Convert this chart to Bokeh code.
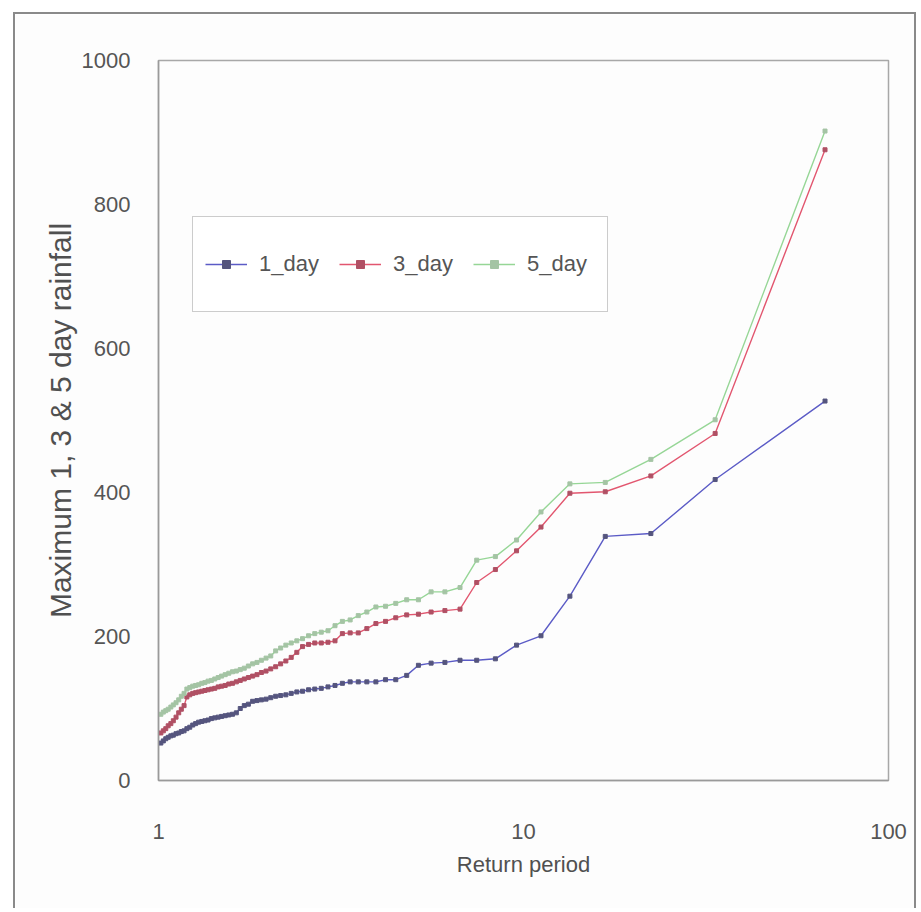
from bokeh.plotting import figure
from bokeh.models import Range1d, FixedTicker, Legend, LegendItem
from bokeh.embed import file_html
from bokeh.resources import INLINE

# Return periods (years), largest first
return_period = [67.0, 33.5, 22.333, 16.75, 13.4, 11.167, 9.571, 8.375, 7.444, 6.7,
                 6.091, 5.583, 5.154, 4.786, 4.467, 4.188, 3.941, 3.722, 3.526, 3.35,
                 3.19, 3.045, 2.913, 2.792, 2.68, 2.577, 2.481, 2.393, 2.31, 2.233,
                 2.161, 2.094, 2.03, 1.971, 1.914, 1.861, 1.811, 1.763, 1.718, 1.675,
                 1.634, 1.595, 1.558, 1.523, 1.489, 1.457, 1.426, 1.396, 1.367, 1.34,
                 1.314, 1.288, 1.264, 1.241, 1.218, 1.196, 1.175, 1.155, 1.136, 1.117,
                 1.098, 1.081, 1.063, 1.047, 1.031, 1.015]

rain_1day = [527, 418, 343, 339, 256, 201, 188, 169, 167, 167,
             164, 163, 160, 146, 140, 140, 137, 137, 137, 137,
             135, 132, 130, 128, 127, 126, 124, 123, 121, 119,
             118, 117, 115, 113, 112, 111, 110, 106, 104, 100,
             94, 92, 91, 90, 89, 88, 87, 86, 84, 83,
             82, 81, 79, 77, 74, 72, 69, 68, 66, 65,
             63, 62, 60, 58, 55, 52]

rain_3day = [876, 482, 423, 401, 399, 352, 319, 293, 275, 238,
             236, 234, 231, 230, 226, 221, 218, 211, 205, 205,
             204, 194, 192, 191, 191, 189, 186, 178, 171, 166,
             162, 158, 155, 152, 150, 147, 145, 143, 141, 139,
             137, 135, 134, 132, 131, 130, 128, 127, 126, 125,
             124, 123, 122, 121, 119, 116, 104, 99, 94, 88,
             83, 79, 76, 72, 69, 66]

rain_5day = [902, 501, 446, 414, 412, 373, 334, 311, 306, 268,
             262, 262, 251, 251, 246, 242, 241, 234, 229, 223,
             221, 215, 208, 206, 204, 201, 197, 194, 191, 188,
             184, 180, 173, 170, 167, 164, 162, 159, 156, 154,
             152, 151, 149, 147, 145, 143, 141, 139, 138, 136,
             135, 133, 132, 131, 129, 127, 121, 117, 112, 108,
             105, 102, 99, 97, 95, 92]

series_names = ["1_day", "3_day", "5_day"]
x_ticks = [1, 10, 100]
y_ticks = [0, 200, 400, 600, 800, 1000]

FONT = "Liberation Sans"

p = figure(width=903, height=896, x_axis_type="log",
           x_range=Range1d(1, 100), y_range=Range1d(0, 1000),
           output_backend="svg", toolbar_location=None,
           min_border_left=143, min_border_right=30,
           min_border_top=46, min_border_bottom=130)

# outer frame of the whole chart
p.margin = (12, 0, 0, 13)
p.styles = {"border-top": "2px solid #8a8a8a",
            "border-left": "2px solid #8a8a8a",
            "border-right": "2px solid #8a8a8a"}

p.background_fill_color = "#fdfdfd"
p.border_fill_color = "#fdfdfd"
p.outline_line_color = "#a8a8a8"
p.outline_line_width = 1.5
p.xgrid.visible = False
p.ygrid.visible = False

for ax in (p.xaxis, p.yaxis):
    ax.axis_line_color = "#9a9a9a"
    ax.axis_line_width = 1.5
    ax.major_tick_line_color = None
    ax.minor_tick_line_color = None
    ax.major_label_text_font = FONT
    ax.major_label_text_font_size = "22px"
    ax.major_label_text_color = "#555555"
    ax.axis_label_text_font = FONT
    ax.axis_label_text_font_style = "normal"
    ax.axis_label_text_color = "#505050"

p.xaxis.ticker = FixedTicker(ticks=x_ticks)
p.xaxis.major_label_overrides = {1: "1", 10: "10", 100: "100"}
p.xaxis.major_label_standoff = 37
p.xaxis.axis_label = "Return period"
p.xaxis.axis_label_text_font_size = "22px"
p.xaxis.axis_label_standoff = 10

p.yaxis.ticker = FixedTicker(ticks=y_ticks)
p.yaxis.major_label_standoff = 22
p.yaxis.axis_label = "Maximum 1, 3 & 5 day rainfall"
p.yaxis.axis_label_text_font_size = "30px"
p.yaxis.axis_label_standoff = 2

line_colors = ["#5b5bc6", "#e2566f", "#96d696"]
marker_colors = ["#55557e", "#b05064", "#a4c4a4"]
values = [rain_1day, rain_3day, rain_5day]

items = []
for name, vals, lc, mc in zip(series_names, values, line_colors, marker_colors):
    ln = p.line(return_period, vals, line_color=lc, line_width=1.4)
    sc = p.scatter(return_period, vals, marker="square", size=4,
                   fill_color=mc, line_color=mc)
    items.append(LegendItem(label=name, renderers=[ln, sc]))

legend = Legend(items=items, orientation="horizontal", location=(34, 468))
legend.label_text_font = FONT
legend.label_text_font_size = "22px"
legend.label_text_color = "#555555"
legend.border_line_color = "#9a9a9a"
legend.border_line_width = 1.5
legend.background_fill_color = "#ffffff"
legend.background_fill_alpha = 1.0
legend.padding = 12
legend.spacing = 12
legend.label_standoff = 12
legend.glyph_width = 42
legend.glyph_height = 20
legend.label_height = 70
legend.label_width = 68
legend.margin = 0
p.add_layout(legend)

open("out.html", "w").write(file_html(p, INLINE))
